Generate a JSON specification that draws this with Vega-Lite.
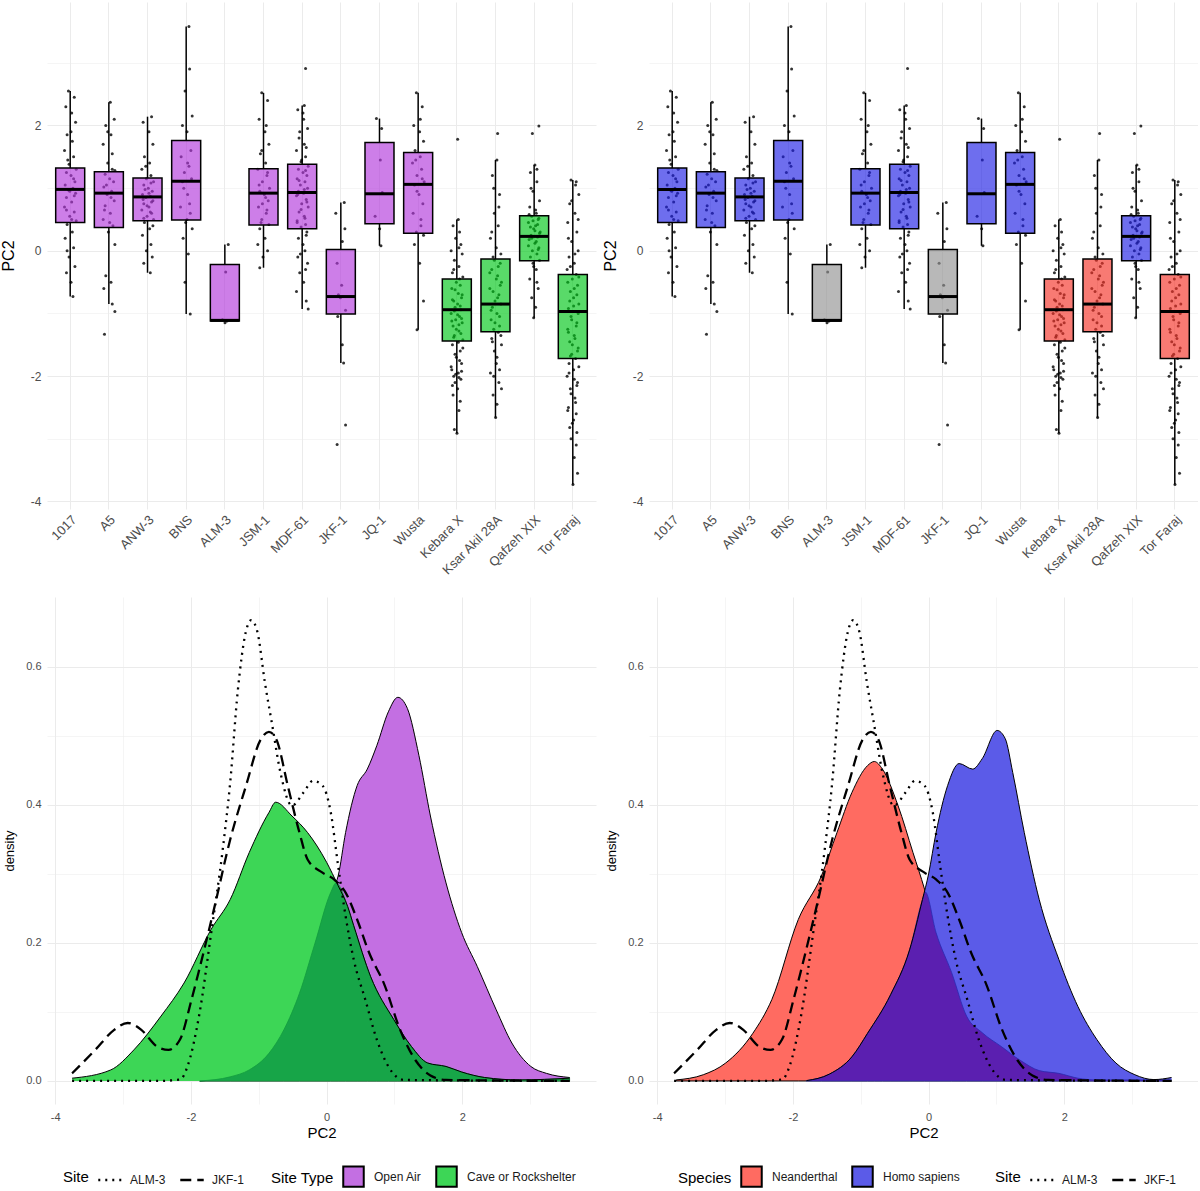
{
  "$schema": "https://vega.github.io/schema/vega-lite/v6.json",
  "padding": {"top": 2, "left": 0, "right": 0, "bottom": 0},
  "background": "white",
  "columns": 2,
  "spacing": {"row": 8, "column": 6},
  "config": {
    "font": "Liberation Sans",
    "view": {"stroke": null},
    "axis": {"domain": false, "ticks": false, "tickSize": 0, "gridColor": "#ebebeb", "labelColor": "#4d4d4d", "titleColor": "#000000", "titleFontWeight": "normal"},
    "legend": {"titleFontWeight": "normal", "titleFontSize": 15, "titleColor": "#000000", "labelFontSize": 12, "labelColor": "#1a1a1a"}
  },
  "resolve": {
    "scale": {"x": "independent", "y": "independent", "fill": "independent", "strokeDash": "independent"},
    "legend": {"fill": "independent", "strokeDash": "independent"}
  },
  "datasets": {
    "boxes": [
      {"s": "1017", "lo": -0.73, "q1": 0.45, "md": 0.98, "q3": 1.32, "hi": 2.55, "t": "Open Air", "sp": "Homo sapiens"},
      {"s": "A5", "lo": -0.85, "q1": 0.37, "md": 0.92, "q3": 1.26, "hi": 2.37, "t": "Open Air", "sp": "Homo sapiens"},
      {"s": "ANW-3", "lo": -0.35, "q1": 0.48, "md": 0.86, "q3": 1.16, "hi": 2.14, "t": "Open Air", "sp": "Homo sapiens"},
      {"s": "BNS", "lo": -1.01, "q1": 0.49, "md": 1.11, "q3": 1.76, "hi": 3.58, "t": "Open Air", "sp": "Homo sapiens"},
      {"s": "ALM-3", "lo": -1.13, "q1": -1.12, "md": -1.11, "q3": -0.22, "hi": 0.1, "t": "Open Air", "sp": "Unknown"},
      {"s": "JSM-1", "lo": -0.27, "q1": 0.41, "md": 0.92, "q3": 1.31, "hi": 2.52, "t": "Open Air", "sp": "Homo sapiens"},
      {"s": "MDF-61", "lo": -0.93, "q1": 0.35, "md": 0.93, "q3": 1.38, "hi": 2.32, "t": "Open Air", "sp": "Homo sapiens"},
      {"s": "JKF-1", "lo": -1.79, "q1": -1.01, "md": -0.73, "q3": 0.02, "hi": 0.77, "t": "Open Air", "sp": "Unknown"},
      {"s": "JQ-1", "lo": 0.08, "q1": 0.43, "md": 0.91, "q3": 1.73, "hi": 2.11, "t": "Open Air", "sp": "Homo sapiens"},
      {"s": "Wusta", "lo": -1.26, "q1": 0.28, "md": 1.06, "q3": 1.57, "hi": 2.52, "t": "Open Air", "sp": "Homo sapiens"},
      {"s": "Kebara X", "lo": -2.91, "q1": -1.44, "md": -0.94, "q3": -0.45, "hi": 0.5, "t": "Cave or Rockshelter", "sp": "Neanderthal"},
      {"s": "Ksar Akil 28A", "lo": -2.66, "q1": -1.29, "md": -0.85, "q3": -0.13, "hi": 1.45, "t": "Cave or Rockshelter", "sp": "Neanderthal"},
      {"s": "Qafzeh XIX", "lo": -1.07, "q1": -0.16, "md": 0.23, "q3": 0.56, "hi": 1.37, "t": "Cave or Rockshelter", "sp": "Homo sapiens"},
      {"s": "Tor Faraj", "lo": -3.73, "q1": -1.72, "md": -0.97, "q3": -0.38, "hi": 1.13, "t": "Cave or Rockshelter", "sp": "Neanderthal"}
    ],
    "pts": [
      {"s": "1017", "v": 2.55, "j": -0.3}, {"s": "1017", "v": 2.45, "j": 0.6}, {"s": "1017", "v": 2.3, "j": -0.7}, {"s": "1017", "v": 2.2, "j": 0.2}, {"s": "1017", "v": 2.05, "j": 0.8}, {"s": "1017", "v": 1.85, "j": -0.5}, {"s": "1017", "v": 1.75, "j": 0.3}, {"s": "1017", "v": 1.6, "j": -0.9}, {"s": "1017", "v": 1.5, "j": 0.5}, {"s": "1017", "v": 1.38, "j": -0.2}, {"s": "1017", "v": 1.3, "j": 0.9}, {"s": "1017", "v": 1.25, "j": -0.6}, {"s": "1017", "v": 1.2, "j": 0.1}, {"s": "1017", "v": 1.1, "j": 0.7}, {"s": "1017", "v": 1.05, "j": -0.8}, {"s": "1017", "v": 1.0, "j": 0.4}, {"s": "1017", "v": 0.97, "j": -0.3}, {"s": "1017", "v": 0.92, "j": 0.8}, {"s": "1017", "v": 0.85, "j": -0.6}, {"s": "1017", "v": 0.78, "j": 0.2}, {"s": "1017", "v": 0.7, "j": -0.9}, {"s": "1017", "v": 0.62, "j": 0.6}, {"s": "1017", "v": 0.55, "j": -0.1}, {"s": "1017", "v": 0.48, "j": 0.9}, {"s": "1017", "v": 0.42, "j": -0.5}, {"s": "1017", "v": 0.3, "j": 0.3}, {"s": "1017", "v": 0.2, "j": -0.8}, {"s": "1017", "v": 0.05, "j": 0.5}, {"s": "1017", "v": -0.1, "j": -0.2}, {"s": "1017", "v": -0.25, "j": 0.7}, {"s": "1017", "v": -0.35, "j": -0.6}, {"s": "1017", "v": -0.5, "j": 0.1}, {"s": "1017", "v": -0.73, "j": 0.4},
      {"s": "1017", "v": 1.9, "j": 0.1}, {"s": "1017", "v": 1.45, "j": -0.4}, {"s": "1017", "v": 1.15, "j": 0.5}, {"s": "1017", "v": 0.95, "j": -0.1}, {"s": "1017", "v": 0.88, "j": 0.6}, {"s": "1017", "v": 0.65, "j": -0.6}, {"s": "1017", "v": 0.5, "j": 0.2}, {"s": "1017", "v": 0.0, "j": -0.5},
      {"s": "A5", "v": 2.37, "j": 0.2}, {"s": "A5", "v": 2.1, "j": 0.8}, {"s": "A5", "v": 2.0, "j": -0.5}, {"s": "A5", "v": 1.85, "j": 0.3}, {"s": "A5", "v": 1.7, "j": -0.9}, {"s": "A5", "v": 1.55, "j": 0.5}, {"s": "A5", "v": 1.4, "j": -0.2}, {"s": "A5", "v": 1.28, "j": 0.9}, {"s": "A5", "v": 1.22, "j": -0.6}, {"s": "A5", "v": 1.15, "j": 0.1}, {"s": "A5", "v": 1.1, "j": 0.7}, {"s": "A5", "v": 1.02, "j": -0.8}, {"s": "A5", "v": 0.95, "j": 0.4}, {"s": "A5", "v": 0.9, "j": -0.3}, {"s": "A5", "v": 0.8, "j": 0.8}, {"s": "A5", "v": 0.72, "j": -0.6}, {"s": "A5", "v": 0.6, "j": 0.2}, {"s": "A5", "v": 0.5, "j": -0.9}, {"s": "A5", "v": 0.4, "j": 0.6}, {"s": "A5", "v": 0.3, "j": -0.1}, {"s": "A5", "v": 0.1, "j": 0.9}, {"s": "A5", "v": -0.4, "j": -0.5}, {"s": "A5", "v": -0.5, "j": 0.3}, {"s": "A5", "v": -0.6, "j": -0.8}, {"s": "A5", "v": -0.85, "j": 0.5}, {"s": "A5", "v": -0.97, "j": 0.9}, {"s": "A5", "v": -1.33, "j": -0.7},
      {"s": "A5", "v": 1.9, "j": -0.2}, {"s": "A5", "v": 1.3, "j": 0.5}, {"s": "A5", "v": 1.05, "j": -0.4}, {"s": "A5", "v": 0.85, "j": 0.3}, {"s": "A5", "v": 0.65, "j": -0.7}, {"s": "A5", "v": 0.45, "j": 0.1},
      {"s": "ANW-3", "v": 2.14, "j": 0.6}, {"s": "ANW-3", "v": 2.05, "j": -0.7}, {"s": "ANW-3", "v": 1.9, "j": 0.2}, {"s": "ANW-3", "v": 1.7, "j": 0.8}, {"s": "ANW-3", "v": 1.5, "j": -0.5}, {"s": "ANW-3", "v": 1.4, "j": 0.3}, {"s": "ANW-3", "v": 1.3, "j": -0.9}, {"s": "ANW-3", "v": 1.2, "j": 0.5}, {"s": "ANW-3", "v": 1.15, "j": -0.2}, {"s": "ANW-3", "v": 1.1, "j": 0.9}, {"s": "ANW-3", "v": 1.05, "j": -0.6}, {"s": "ANW-3", "v": 1.0, "j": 0.1}, {"s": "ANW-3", "v": 0.95, "j": 0.7}, {"s": "ANW-3", "v": 0.9, "j": -0.8}, {"s": "ANW-3", "v": 0.87, "j": 0.4}, {"s": "ANW-3", "v": 0.85, "j": -0.3}, {"s": "ANW-3", "v": 0.8, "j": 0.8}, {"s": "ANW-3", "v": 0.75, "j": -0.6}, {"s": "ANW-3", "v": 0.7, "j": 0.2}, {"s": "ANW-3", "v": 0.65, "j": -0.9}, {"s": "ANW-3", "v": 0.6, "j": 0.6}, {"s": "ANW-3", "v": 0.55, "j": -0.1}, {"s": "ANW-3", "v": 0.5, "j": 0.9}, {"s": "ANW-3", "v": 0.45, "j": -0.5}, {"s": "ANW-3", "v": 0.35, "j": 0.3}, {"s": "ANW-3", "v": 0.25, "j": -0.8}, {"s": "ANW-3", "v": 0.1, "j": 0.5}, {"s": "ANW-3", "v": 0.0, "j": -0.2}, {"s": "ANW-3", "v": -0.1, "j": 0.7}, {"s": "ANW-3", "v": -0.2, "j": -0.6}, {"s": "ANW-3", "v": -0.35, "j": 0.4},
      {"s": "ANW-3", "v": 1.35, "j": -0.3}, {"s": "ANW-3", "v": 1.08, "j": 0.5}, {"s": "ANW-3", "v": 0.98, "j": -0.4}, {"s": "ANW-3", "v": 0.92, "j": 0.2}, {"s": "ANW-3", "v": 0.82, "j": -0.7}, {"s": "ANW-3", "v": 0.78, "j": 0.6}, {"s": "ANW-3", "v": 0.72, "j": -0.1}, {"s": "ANW-3", "v": 0.62, "j": 0.4}, {"s": "ANW-3", "v": 0.52, "j": -0.6}, {"s": "ANW-3", "v": 0.4, "j": 0.8},
      {"s": "BNS", "v": 3.58, "j": 0.4}, {"s": "BNS", "v": 2.9, "j": 0.5}, {"s": "BNS", "v": 2.55, "j": -0.2}, {"s": "BNS", "v": 2.15, "j": 0.9}, {"s": "BNS", "v": 2.0, "j": -0.6}, {"s": "BNS", "v": 1.9, "j": 0.1}, {"s": "BNS", "v": 1.6, "j": 0.7}, {"s": "BNS", "v": 1.5, "j": -0.8}, {"s": "BNS", "v": 1.35, "j": 0.4}, {"s": "BNS", "v": 1.25, "j": -0.3}, {"s": "BNS", "v": 1.15, "j": 0.8}, {"s": "BNS", "v": 1.1, "j": -0.6}, {"s": "BNS", "v": 0.9, "j": 0.2}, {"s": "BNS", "v": 0.7, "j": -0.9}, {"s": "BNS", "v": 0.6, "j": 0.6}, {"s": "BNS", "v": 0.45, "j": -0.1}, {"s": "BNS", "v": 0.35, "j": 0.9}, {"s": "BNS", "v": 0.2, "j": -0.5}, {"s": "BNS", "v": -0.05, "j": 0.3}, {"s": "BNS", "v": -0.5, "j": -0.2}, {"s": "BNS", "v": -1.01, "j": 0.6},
      {"s": "BNS", "v": 1.4, "j": 0.2}, {"s": "BNS", "v": 1.0, "j": -0.4}, {"s": "BNS", "v": 0.75, "j": 0.5}, {"s": "BNS", "v": 0.5, "j": 0.1},
      {"s": "ALM-3", "v": 0.1, "j": 0.5}, {"s": "ALM-3", "v": -0.34, "j": 0.1}, {"s": "ALM-3", "v": -1.1, "j": -0.4}, {"s": "ALM-3", "v": -1.12, "j": 0.3}, {"s": "ALM-3", "v": -1.15, "j": 0.0},
      {"s": "JSM-1", "v": 2.52, "j": -0.3}, {"s": "JSM-1", "v": 2.4, "j": 0.6}, {"s": "JSM-1", "v": 2.1, "j": -0.7}, {"s": "JSM-1", "v": 1.9, "j": 0.2}, {"s": "JSM-1", "v": 1.7, "j": 0.8}, {"s": "JSM-1", "v": 1.55, "j": -0.5}, {"s": "JSM-1", "v": 1.4, "j": 0.3}, {"s": "JSM-1", "v": 1.3, "j": -0.9}, {"s": "JSM-1", "v": 1.2, "j": 0.5}, {"s": "JSM-1", "v": 1.1, "j": -0.2}, {"s": "JSM-1", "v": 1.0, "j": 0.9}, {"s": "JSM-1", "v": 0.95, "j": -0.6}, {"s": "JSM-1", "v": 0.9, "j": 0.1}, {"s": "JSM-1", "v": 0.8, "j": 0.7}, {"s": "JSM-1", "v": 0.7, "j": -0.8}, {"s": "JSM-1", "v": 0.6, "j": 0.4}, {"s": "JSM-1", "v": 0.5, "j": -0.3}, {"s": "JSM-1", "v": 0.42, "j": 0.8}, {"s": "JSM-1", "v": 0.35, "j": -0.6}, {"s": "JSM-1", "v": 0.2, "j": 0.2}, {"s": "JSM-1", "v": 0.1, "j": -0.9}, {"s": "JSM-1", "v": 0.0, "j": 0.6}, {"s": "JSM-1", "v": -0.1, "j": -0.1}, {"s": "JSM-1", "v": -0.27, "j": -0.6},
      {"s": "JSM-1", "v": 2.0, "j": 0.4}, {"s": "JSM-1", "v": 1.6, "j": -0.3}, {"s": "JSM-1", "v": 1.25, "j": 0.6}, {"s": "JSM-1", "v": 1.05, "j": -0.7}, {"s": "JSM-1", "v": 0.85, "j": 0.3}, {"s": "JSM-1", "v": 0.75, "j": -0.2}, {"s": "JSM-1", "v": 0.65, "j": 0.5}, {"s": "JSM-1", "v": 0.45, "j": -0.4},
      {"s": "MDF-61", "v": 2.91, "j": 0.5}, {"s": "MDF-61", "v": 2.32, "j": 0.3}, {"s": "MDF-61", "v": 2.25, "j": -0.7}, {"s": "MDF-61", "v": 2.1, "j": 0.2}, {"s": "MDF-61", "v": 1.95, "j": 0.8}, {"s": "MDF-61", "v": 1.8, "j": -0.5}, {"s": "MDF-61", "v": 1.7, "j": 0.3}, {"s": "MDF-61", "v": 1.6, "j": -0.9}, {"s": "MDF-61", "v": 1.5, "j": 0.5}, {"s": "MDF-61", "v": 1.42, "j": -0.2}, {"s": "MDF-61", "v": 1.35, "j": 0.9}, {"s": "MDF-61", "v": 1.3, "j": -0.6}, {"s": "MDF-61", "v": 1.25, "j": 0.1}, {"s": "MDF-61", "v": 1.2, "j": 0.7}, {"s": "MDF-61", "v": 1.15, "j": -0.8}, {"s": "MDF-61", "v": 1.1, "j": 0.4}, {"s": "MDF-61", "v": 1.05, "j": -0.3}, {"s": "MDF-61", "v": 1.0, "j": 0.8}, {"s": "MDF-61", "v": 0.95, "j": -0.6}, {"s": "MDF-61", "v": 0.92, "j": 0.2}, {"s": "MDF-61", "v": 0.88, "j": -0.9}, {"s": "MDF-61", "v": 0.82, "j": 0.6}, {"s": "MDF-61", "v": 0.75, "j": -0.1}, {"s": "MDF-61", "v": 0.7, "j": 0.9}, {"s": "MDF-61", "v": 0.62, "j": -0.5}, {"s": "MDF-61", "v": 0.55, "j": 0.3}, {"s": "MDF-61", "v": 0.48, "j": -0.8}, {"s": "MDF-61", "v": 0.42, "j": 0.5}, {"s": "MDF-61", "v": 0.38, "j": -0.2}, {"s": "MDF-61", "v": 0.3, "j": 0.7}, {"s": "MDF-61", "v": 0.2, "j": -0.6}, {"s": "MDF-61", "v": 0.1, "j": 0.1}, {"s": "MDF-61", "v": 0.0, "j": 0.4}, {"s": "MDF-61", "v": -0.1, "j": -0.7}, {"s": "MDF-61", "v": -0.2, "j": 0.8}, {"s": "MDF-61", "v": -0.35, "j": -0.4}, {"s": "MDF-61", "v": -0.5, "j": 0.2}, {"s": "MDF-61", "v": -0.65, "j": -0.9}, {"s": "MDF-61", "v": -0.8, "j": 0.6}, {"s": "MDF-61", "v": -0.93, "j": 0.9},
      {"s": "MDF-61", "v": 2.2, "j": 0.1}, {"s": "MDF-61", "v": 1.9, "j": -0.4}, {"s": "MDF-61", "v": 1.65, "j": 0.6}, {"s": "MDF-61", "v": 1.45, "j": -0.1}, {"s": "MDF-61", "v": 1.28, "j": 0.5}, {"s": "MDF-61", "v": 1.12, "j": -0.5}, {"s": "MDF-61", "v": 0.98, "j": 0.3}, {"s": "MDF-61", "v": 0.9, "j": -0.7}, {"s": "MDF-61", "v": 0.78, "j": 0.7}, {"s": "MDF-61", "v": 0.66, "j": -0.2}, {"s": "MDF-61", "v": 0.52, "j": 0.4}, {"s": "MDF-61", "v": 0.45, "j": -0.8}, {"s": "MDF-61", "v": 0.25, "j": 0.6}, {"s": "MDF-61", "v": -0.05, "j": -0.3}, {"s": "MDF-61", "v": -0.3, "j": 0.5},
      {"s": "JKF-1", "v": 0.77, "j": 0.5}, {"s": "JKF-1", "v": 0.6, "j": -0.8}, {"s": "JKF-1", "v": 0.35, "j": 0.6}, {"s": "JKF-1", "v": 0.15, "j": 0.2}, {"s": "JKF-1", "v": -0.2, "j": -0.6}, {"s": "JKF-1", "v": -0.55, "j": 0.1}, {"s": "JKF-1", "v": -0.7, "j": -0.4}, {"s": "JKF-1", "v": -0.73, "j": 0.3}, {"s": "JKF-1", "v": -0.75, "j": -0.1}, {"s": "JKF-1", "v": -0.95, "j": 0.7}, {"s": "JKF-1", "v": -1.05, "j": -0.5}, {"s": "JKF-1", "v": -1.5, "j": 0.2}, {"s": "JKF-1", "v": -1.79, "j": 0.4}, {"s": "JKF-1", "v": -2.78, "j": 0.7}, {"s": "JKF-1", "v": -3.09, "j": -0.6},
      {"s": "JQ-1", "v": 2.11, "j": -0.5}, {"s": "JQ-1", "v": 1.95, "j": 0.3}, {"s": "JQ-1", "v": 1.45, "j": 0.1}, {"s": "JQ-1", "v": 0.93, "j": 0.4}, {"s": "JQ-1", "v": 0.55, "j": -0.7}, {"s": "JQ-1", "v": 0.35, "j": 0.0}, {"s": "JQ-1", "v": 0.08, "j": 0.2},
      {"s": "Wusta", "v": 2.52, "j": -0.3}, {"s": "Wusta", "v": 2.3, "j": 0.6}, {"s": "Wusta", "v": 2.0, "j": -0.7}, {"s": "Wusta", "v": 1.9, "j": 0.2}, {"s": "Wusta", "v": 1.75, "j": 0.8}, {"s": "Wusta", "v": 1.6, "j": -0.5}, {"s": "Wusta", "v": 1.5, "j": 0.3}, {"s": "Wusta", "v": 1.4, "j": -0.9}, {"s": "Wusta", "v": 1.3, "j": 0.5}, {"s": "Wusta", "v": 1.2, "j": -0.2}, {"s": "Wusta", "v": 1.1, "j": 0.9}, {"s": "Wusta", "v": 1.05, "j": -0.6}, {"s": "Wusta", "v": 0.9, "j": 0.1}, {"s": "Wusta", "v": 0.75, "j": 0.7}, {"s": "Wusta", "v": 0.6, "j": -0.8}, {"s": "Wusta", "v": 0.4, "j": 0.4}, {"s": "Wusta", "v": 0.3, "j": -0.3}, {"s": "Wusta", "v": 0.25, "j": 0.8}, {"s": "Wusta", "v": 0.1, "j": -0.6}, {"s": "Wusta", "v": -0.2, "j": 0.2}, {"s": "Wusta", "v": -0.8, "j": 0.8}, {"s": "Wusta", "v": -1.26, "j": -0.2},
      {"s": "Wusta", "v": 2.1, "j": 0.3}, {"s": "Wusta", "v": 1.45, "j": -0.4}, {"s": "Wusta", "v": 1.15, "j": 0.6}, {"s": "Wusta", "v": 0.95, "j": -0.2}, {"s": "Wusta", "v": 0.5, "j": 0.4},
      {"s": "Kebara X", "v": 1.78, "j": 0.1}, {"s": "Kebara X", "v": 0.5, "j": 0.2}, {"s": "Kebara X", "v": 0.4, "j": -0.6}, {"s": "Kebara X", "v": 0.3, "j": 0.4}, {"s": "Kebara X", "v": 0.2, "j": -0.2}, {"s": "Kebara X", "v": 0.1, "j": 0.6}, {"s": "Kebara X", "v": 0.0, "j": -0.9}, {"s": "Kebara X", "v": -0.05, "j": 0.8}, {"s": "Kebara X", "v": -0.15, "j": -0.4}, {"s": "Kebara X", "v": -0.25, "j": 0.3}, {"s": "Kebara X", "v": -0.35, "j": -0.7}, {"s": "Kebara X", "v": -0.42, "j": 0.9}, {"s": "Kebara X", "v": -0.5, "j": -0.1}, {"s": "Kebara X", "v": -0.55, "j": 0.5}, {"s": "Kebara X", "v": -0.6, "j": -0.8}, {"s": "Kebara X", "v": -0.68, "j": 0.2}, {"s": "Kebara X", "v": -0.75, "j": 0.7}, {"s": "Kebara X", "v": -0.8, "j": -0.5}, {"s": "Kebara X", "v": -0.85, "j": 0.1}, {"s": "Kebara X", "v": -0.9, "j": -0.3}, {"s": "Kebara X", "v": -0.94, "j": 0.6}, {"s": "Kebara X", "v": -1.0, "j": -0.9}, {"s": "Kebara X", "v": -1.05, "j": 0.4}, {"s": "Kebara X", "v": -1.1, "j": -0.2}, {"s": "Kebara X", "v": -1.15, "j": 0.8}, {"s": "Kebara X", "v": -1.2, "j": -0.6}, {"s": "Kebara X", "v": -1.28, "j": 0.3}, {"s": "Kebara X", "v": -1.35, "j": -0.4}, {"s": "Kebara X", "v": -1.42, "j": 0.9}, {"s": "Kebara X", "v": -1.5, "j": -0.7}, {"s": "Kebara X", "v": -1.6, "j": 0.5}, {"s": "Kebara X", "v": -1.7, "j": -0.1}, {"s": "Kebara X", "v": -1.8, "j": 0.7}, {"s": "Kebara X", "v": -1.9, "j": -0.8}, {"s": "Kebara X", "v": -1.95, "j": 0.2}, {"s": "Kebara X", "v": -2.0, "j": -0.5}, {"s": "Kebara X", "v": -2.05, "j": 0.6}, {"s": "Kebara X", "v": -2.1, "j": -0.3}, {"s": "Kebara X", "v": -2.2, "j": 0.1}, {"s": "Kebara X", "v": -2.3, "j": -0.6}, {"s": "Kebara X", "v": -2.55, "j": 0.3}, {"s": "Kebara X", "v": -2.85, "j": -0.4}, {"s": "Kebara X", "v": -2.91, "j": 0.0},
      {"s": "Kebara X", "v": -0.45, "j": 0.4}, {"s": "Kebara X", "v": -0.62, "j": -0.3}, {"s": "Kebara X", "v": -0.7, "j": 0.8}, {"s": "Kebara X", "v": -0.78, "j": -0.7}, {"s": "Kebara X", "v": -0.88, "j": 0.5}, {"s": "Kebara X", "v": -0.96, "j": -0.4}, {"s": "Kebara X", "v": -1.02, "j": 0.1}, {"s": "Kebara X", "v": -1.08, "j": 0.7}, {"s": "Kebara X", "v": -1.12, "j": -0.8}, {"s": "Kebara X", "v": -1.18, "j": 0.3}, {"s": "Kebara X", "v": -1.25, "j": -0.1}, {"s": "Kebara X", "v": -1.32, "j": 0.6}, {"s": "Kebara X", "v": -1.38, "j": -0.5}, {"s": "Kebara X", "v": -1.46, "j": 0.2}, {"s": "Kebara X", "v": -1.55, "j": 0.9}, {"s": "Kebara X", "v": -1.65, "j": -0.3}, {"s": "Kebara X", "v": -1.75, "j": 0.4}, {"s": "Kebara X", "v": -1.85, "j": -0.9}, {"s": "Kebara X", "v": -1.92, "j": 0.7}, {"s": "Kebara X", "v": -1.97, "j": -0.2}, {"s": "Kebara X", "v": -2.02, "j": 0.3}, {"s": "Kebara X", "v": -2.15, "j": -0.7}, {"s": "Kebara X", "v": -2.4, "j": 0.5}, {"s": "Kebara X", "v": 0.05, "j": 0.3}, {"s": "Kebara X", "v": -0.3, "j": -0.5},
      {"s": "Ksar Akil 28A", "v": 1.87, "j": 0.3}, {"s": "Ksar Akil 28A", "v": 1.45, "j": 0.2}, {"s": "Ksar Akil 28A", "v": 1.2, "j": -0.5}, {"s": "Ksar Akil 28A", "v": 0.9, "j": 0.6}, {"s": "Ksar Akil 28A", "v": 0.6, "j": -0.2}, {"s": "Ksar Akil 28A", "v": 0.4, "j": 0.4}, {"s": "Ksar Akil 28A", "v": 0.2, "j": -0.8}, {"s": "Ksar Akil 28A", "v": 0.05, "j": 0.1}, {"s": "Ksar Akil 28A", "v": -0.1, "j": -0.4}, {"s": "Ksar Akil 28A", "v": -0.2, "j": 0.7}, {"s": "Ksar Akil 28A", "v": -0.3, "j": -0.6}, {"s": "Ksar Akil 28A", "v": -0.4, "j": 0.3}, {"s": "Ksar Akil 28A", "v": -0.5, "j": 0.9}, {"s": "Ksar Akil 28A", "v": -0.6, "j": -0.9}, {"s": "Ksar Akil 28A", "v": -0.7, "j": 0.5}, {"s": "Ksar Akil 28A", "v": -0.8, "j": -0.1}, {"s": "Ksar Akil 28A", "v": -0.85, "j": 0.8}, {"s": "Ksar Akil 28A", "v": -0.9, "j": -0.5}, {"s": "Ksar Akil 28A", "v": -1.0, "j": 0.2}, {"s": "Ksar Akil 28A", "v": -1.1, "j": -0.7}, {"s": "Ksar Akil 28A", "v": -1.2, "j": 0.6}, {"s": "Ksar Akil 28A", "v": -1.25, "j": -0.3}, {"s": "Ksar Akil 28A", "v": -1.3, "j": 0.4}, {"s": "Ksar Akil 28A", "v": -1.4, "j": -0.6}, {"s": "Ksar Akil 28A", "v": -1.5, "j": 0.9}, {"s": "Ksar Akil 28A", "v": -1.6, "j": -0.2}, {"s": "Ksar Akil 28A", "v": -1.8, "j": 0.1}, {"s": "Ksar Akil 28A", "v": -1.95, "j": -0.8}, {"s": "Ksar Akil 28A", "v": -2.1, "j": 0.5}, {"s": "Ksar Akil 28A", "v": -2.3, "j": -0.4}, {"s": "Ksar Akil 28A", "v": -2.45, "j": 0.2}, {"s": "Ksar Akil 28A", "v": -2.66, "j": 0.0},
      {"s": "Ksar Akil 28A", "v": 1.0, "j": -0.3}, {"s": "Ksar Akil 28A", "v": 0.7, "j": 0.5}, {"s": "Ksar Akil 28A", "v": 0.3, "j": -0.6}, {"s": "Ksar Akil 28A", "v": -0.05, "j": 0.8}, {"s": "Ksar Akil 28A", "v": -0.15, "j": -0.2}, {"s": "Ksar Akil 28A", "v": -0.25, "j": 0.4}, {"s": "Ksar Akil 28A", "v": -0.35, "j": -0.9}, {"s": "Ksar Akil 28A", "v": -0.45, "j": 0.1}, {"s": "Ksar Akil 28A", "v": -0.55, "j": 0.7}, {"s": "Ksar Akil 28A", "v": -0.65, "j": -0.4}, {"s": "Ksar Akil 28A", "v": -0.75, "j": 0.3}, {"s": "Ksar Akil 28A", "v": -0.95, "j": -0.7}, {"s": "Ksar Akil 28A", "v": -1.05, "j": 0.6}, {"s": "Ksar Akil 28A", "v": -1.15, "j": -0.1}, {"s": "Ksar Akil 28A", "v": -1.35, "j": 0.8}, {"s": "Ksar Akil 28A", "v": -1.45, "j": -0.5}, {"s": "Ksar Akil 28A", "v": -1.7, "j": 0.2}, {"s": "Ksar Akil 28A", "v": -1.9, "j": 0.6}, {"s": "Ksar Akil 28A", "v": -2.0, "j": -0.3}, {"s": "Ksar Akil 28A", "v": -2.2, "j": 0.9},
      {"s": "Qafzeh XIX", "v": 1.99, "j": 0.7}, {"s": "Qafzeh XIX", "v": 1.87, "j": -0.3}, {"s": "Qafzeh XIX", "v": 1.37, "j": 0.1}, {"s": "Qafzeh XIX", "v": 1.25, "j": -0.6}, {"s": "Qafzeh XIX", "v": 1.1, "j": 0.4}, {"s": "Qafzeh XIX", "v": 0.95, "j": -0.2}, {"s": "Qafzeh XIX", "v": 0.8, "j": 0.8}, {"s": "Qafzeh XIX", "v": 0.7, "j": -0.7}, {"s": "Qafzeh XIX", "v": 0.6, "j": 0.3}, {"s": "Qafzeh XIX", "v": 0.55, "j": -0.4}, {"s": "Qafzeh XIX", "v": 0.5, "j": 0.6}, {"s": "Qafzeh XIX", "v": 0.45, "j": -0.9}, {"s": "Qafzeh XIX", "v": 0.4, "j": 0.2}, {"s": "Qafzeh XIX", "v": 0.35, "j": -0.1}, {"s": "Qafzeh XIX", "v": 0.3, "j": 0.9}, {"s": "Qafzeh XIX", "v": 0.25, "j": -0.5}, {"s": "Qafzeh XIX", "v": 0.22, "j": 0.5}, {"s": "Qafzeh XIX", "v": 0.18, "j": -0.8}, {"s": "Qafzeh XIX", "v": 0.12, "j": 0.1}, {"s": "Qafzeh XIX", "v": 0.05, "j": 0.7}, {"s": "Qafzeh XIX", "v": 0.0, "j": -0.3}, {"s": "Qafzeh XIX", "v": -0.05, "j": 0.4}, {"s": "Qafzeh XIX", "v": -0.1, "j": -0.6}, {"s": "Qafzeh XIX", "v": -0.15, "j": 0.8}, {"s": "Qafzeh XIX", "v": -0.2, "j": -0.2}, {"s": "Qafzeh XIX", "v": -0.3, "j": 0.3}, {"s": "Qafzeh XIX", "v": -0.45, "j": -0.7}, {"s": "Qafzeh XIX", "v": -0.6, "j": 0.6}, {"s": "Qafzeh XIX", "v": -0.75, "j": -0.4}, {"s": "Qafzeh XIX", "v": -0.9, "j": 0.2}, {"s": "Qafzeh XIX", "v": -1.07, "j": -0.1},
      {"s": "Qafzeh XIX", "v": 1.3, "j": 0.4}, {"s": "Qafzeh XIX", "v": 1.0, "j": -0.5}, {"s": "Qafzeh XIX", "v": 0.65, "j": 0.2}, {"s": "Qafzeh XIX", "v": 0.58, "j": -0.8}, {"s": "Qafzeh XIX", "v": 0.52, "j": 0.7}, {"s": "Qafzeh XIX", "v": 0.48, "j": -0.2}, {"s": "Qafzeh XIX", "v": 0.42, "j": 0.5}, {"s": "Qafzeh XIX", "v": 0.38, "j": -0.6}, {"s": "Qafzeh XIX", "v": 0.32, "j": 0.1}, {"s": "Qafzeh XIX", "v": 0.28, "j": 0.8}, {"s": "Qafzeh XIX", "v": 0.2, "j": -0.4}, {"s": "Qafzeh XIX", "v": 0.15, "j": 0.3}, {"s": "Qafzeh XIX", "v": 0.08, "j": -0.9}, {"s": "Qafzeh XIX", "v": 0.02, "j": 0.6}, {"s": "Qafzeh XIX", "v": -0.25, "j": -0.1}, {"s": "Qafzeh XIX", "v": -0.5, "j": 0.4},
      {"s": "Tor Faraj", "v": 1.13, "j": -0.3}, {"s": "Tor Faraj", "v": 1.05, "j": 0.4}, {"s": "Tor Faraj", "v": 0.9, "j": 0.9}, {"s": "Tor Faraj", "v": 0.75, "j": -0.5}, {"s": "Tor Faraj", "v": 0.6, "j": 0.3}, {"s": "Tor Faraj", "v": 0.45, "j": -0.8}, {"s": "Tor Faraj", "v": 0.3, "j": 0.6}, {"s": "Tor Faraj", "v": 0.15, "j": -0.2}, {"s": "Tor Faraj", "v": 0.0, "j": 0.8}, {"s": "Tor Faraj", "v": -0.1, "j": -0.6}, {"s": "Tor Faraj", "v": -0.2, "j": 0.2}, {"s": "Tor Faraj", "v": -0.3, "j": -0.9}, {"s": "Tor Faraj", "v": -0.38, "j": 0.5}, {"s": "Tor Faraj", "v": -0.45, "j": -0.1}, {"s": "Tor Faraj", "v": -0.55, "j": 0.7}, {"s": "Tor Faraj", "v": -0.65, "j": -0.4}, {"s": "Tor Faraj", "v": -0.75, "j": 0.1}, {"s": "Tor Faraj", "v": -0.85, "j": 0.9}, {"s": "Tor Faraj", "v": -0.92, "j": -0.7}, {"s": "Tor Faraj", "v": -0.97, "j": 0.3}, {"s": "Tor Faraj", "v": -1.05, "j": -0.3}, {"s": "Tor Faraj", "v": -1.15, "j": 0.6}, {"s": "Tor Faraj", "v": -1.25, "j": -0.8}, {"s": "Tor Faraj", "v": -1.35, "j": 0.2}, {"s": "Tor Faraj", "v": -1.45, "j": -0.5}, {"s": "Tor Faraj", "v": -1.55, "j": 0.8}, {"s": "Tor Faraj", "v": -1.65, "j": -0.2}, {"s": "Tor Faraj", "v": -1.72, "j": 0.4}, {"s": "Tor Faraj", "v": -1.8, "j": -0.6}, {"s": "Tor Faraj", "v": -1.9, "j": 0.1}, {"s": "Tor Faraj", "v": -2.0, "j": -0.9}, {"s": "Tor Faraj", "v": -2.1, "j": 0.7}, {"s": "Tor Faraj", "v": -2.2, "j": -0.4}, {"s": "Tor Faraj", "v": -2.35, "j": 0.3}, {"s": "Tor Faraj", "v": -2.5, "j": -0.7}, {"s": "Tor Faraj", "v": -2.6, "j": 0.5}, {"s": "Tor Faraj", "v": -2.75, "j": -0.1}, {"s": "Tor Faraj", "v": -2.9, "j": 0.6}, {"s": "Tor Faraj", "v": -3.0, "j": -0.3}, {"s": "Tor Faraj", "v": -3.3, "j": 0.2}, {"s": "Tor Faraj", "v": -3.55, "j": 0.7}, {"s": "Tor Faraj", "v": -3.73, "j": 0.0},
      {"s": "Tor Faraj", "v": 1.1, "j": 0.5}, {"s": "Tor Faraj", "v": 0.8, "j": -0.2}, {"s": "Tor Faraj", "v": 0.5, "j": 0.8}, {"s": "Tor Faraj", "v": 0.2, "j": -0.7}, {"s": "Tor Faraj", "v": -0.05, "j": 0.3}, {"s": "Tor Faraj", "v": -0.25, "j": -0.4}, {"s": "Tor Faraj", "v": -0.42, "j": 0.9}, {"s": "Tor Faraj", "v": -0.5, "j": -0.8}, {"s": "Tor Faraj", "v": -0.6, "j": 0.2}, {"s": "Tor Faraj", "v": -0.7, "j": 0.6}, {"s": "Tor Faraj", "v": -0.8, "j": -0.5}, {"s": "Tor Faraj", "v": -0.88, "j": 0.1}, {"s": "Tor Faraj", "v": -1.0, "j": 0.8}, {"s": "Tor Faraj", "v": -1.1, "j": -0.2}, {"s": "Tor Faraj", "v": -1.2, "j": 0.5}, {"s": "Tor Faraj", "v": -1.3, "j": -0.7}, {"s": "Tor Faraj", "v": -1.4, "j": 0.3}, {"s": "Tor Faraj", "v": -1.5, "j": -0.1}, {"s": "Tor Faraj", "v": -1.6, "j": 0.7}, {"s": "Tor Faraj", "v": -1.68, "j": -0.4}, {"s": "Tor Faraj", "v": -1.85, "j": 0.9}, {"s": "Tor Faraj", "v": -1.95, "j": -0.6}, {"s": "Tor Faraj", "v": -2.05, "j": 0.2}, {"s": "Tor Faraj", "v": -2.15, "j": 0.6}, {"s": "Tor Faraj", "v": -2.28, "j": -0.3}, {"s": "Tor Faraj", "v": -2.42, "j": 0.4}, {"s": "Tor Faraj", "v": -2.55, "j": -0.8}, {"s": "Tor Faraj", "v": -2.7, "j": 0.1}, {"s": "Tor Faraj", "v": -2.82, "j": -0.5}, {"s": "Tor Faraj", "v": -3.1, "j": 0.5}
    ],
    "densL": [
      {"g": "Open Air", "x": -1.87, "d": 0}, {"g": "Open Air", "x": -1.42, "d": 0.006}, {"g": "Open Air", "x": -1.14, "d": 0.016}, {"g": "Open Air", "x": -0.85, "d": 0.04}, {"g": "Open Air", "x": -0.63, "d": 0.074}, {"g": "Open Air", "x": -0.4, "d": 0.127}, {"g": "Open Air", "x": -0.17, "d": 0.2}, {"g": "Open Air", "x": 0.06, "d": 0.273}, {"g": "Open Air", "x": 0.17, "d": 0.297}, {"g": "Open Air", "x": 0.28, "d": 0.36}, {"g": "Open Air", "x": 0.45, "d": 0.428}, {"g": "Open Air", "x": 0.6, "d": 0.452}, {"g": "Open Air", "x": 0.74, "d": 0.486}, {"g": "Open Air", "x": 0.91, "d": 0.535}, {"g": "Open Air", "x": 1.05, "d": 0.556}, {"g": "Open Air", "x": 1.19, "d": 0.54}, {"g": "Open Air", "x": 1.36, "d": 0.472}, {"g": "Open Air", "x": 1.53, "d": 0.384}, {"g": "Open Air", "x": 1.76, "d": 0.287}, {"g": "Open Air", "x": 1.99, "d": 0.215}, {"g": "Open Air", "x": 2.22, "d": 0.166}, {"g": "Open Air", "x": 2.5, "d": 0.103}, {"g": "Open Air", "x": 2.73, "d": 0.055}, {"g": "Open Air", "x": 3.01, "d": 0.021}, {"g": "Open Air", "x": 3.24, "d": 0.011}, {"g": "Open Air", "x": 3.58, "d": 0.005},
      {"g": "Cave or Rockshelter", "x": -3.75, "d": 0.004}, {"g": "Cave or Rockshelter", "x": -3.18, "d": 0.016}, {"g": "Cave or Rockshelter", "x": -2.84, "d": 0.045}, {"g": "Cave or Rockshelter", "x": -2.44, "d": 0.094}, {"g": "Cave or Rockshelter", "x": -2.1, "d": 0.142}, {"g": "Cave or Rockshelter", "x": -1.7, "d": 0.22}, {"g": "Cave or Rockshelter", "x": -1.42, "d": 0.263}, {"g": "Cave or Rockshelter", "x": -1.14, "d": 0.331}, {"g": "Cave or Rockshelter", "x": -0.85, "d": 0.389}, {"g": "Cave or Rockshelter", "x": -0.75, "d": 0.404}, {"g": "Cave or Rockshelter", "x": -0.51, "d": 0.384}, {"g": "Cave or Rockshelter", "x": -0.28, "d": 0.36}, {"g": "Cave or Rockshelter", "x": 0, "d": 0.317}, {"g": "Cave or Rockshelter", "x": 0.17, "d": 0.283}, {"g": "Cave or Rockshelter", "x": 0.31, "d": 0.253}, {"g": "Cave or Rockshelter", "x": 0.4, "d": 0.225}, {"g": "Cave or Rockshelter", "x": 0.65, "d": 0.151}, {"g": "Cave or Rockshelter", "x": 0.99, "d": 0.089}, {"g": "Cave or Rockshelter", "x": 1.25, "d": 0.05}, {"g": "Cave or Rockshelter", "x": 1.49, "d": 0.026}, {"g": "Cave or Rockshelter", "x": 1.76, "d": 0.021}, {"g": "Cave or Rockshelter", "x": 1.99, "d": 0.013}, {"g": "Cave or Rockshelter", "x": 2.33, "d": 0.005}, {"g": "Cave or Rockshelter", "x": 2.84, "d": 0.0015}, {"g": "Cave or Rockshelter", "x": 3.58, "d": 0.004},
      {"g": "ov", "x": -1.87, "d": 0}, {"g": "ov", "x": -1.42, "d": 0.006}, {"g": "ov", "x": -1.14, "d": 0.016}, {"g": "ov", "x": -0.85, "d": 0.04}, {"g": "ov", "x": -0.63, "d": 0.074}, {"g": "ov", "x": -0.4, "d": 0.127}, {"g": "ov", "x": -0.17, "d": 0.2}, {"g": "ov", "x": 0.06, "d": 0.273}, {"g": "ov", "x": 0.14, "d": 0.287}, {"g": "ov", "x": 0.31, "d": 0.253}, {"g": "ov", "x": 0.4, "d": 0.225}, {"g": "ov", "x": 0.65, "d": 0.151}, {"g": "ov", "x": 0.99, "d": 0.089}, {"g": "ov", "x": 1.25, "d": 0.05}, {"g": "ov", "x": 1.49, "d": 0.026}, {"g": "ov", "x": 1.76, "d": 0.021}, {"g": "ov", "x": 1.99, "d": 0.013}, {"g": "ov", "x": 2.33, "d": 0.005}, {"g": "ov", "x": 2.84, "d": 0.0015}, {"g": "ov", "x": 3.58, "d": 0.004}
    ],
    "densR": [
      {"g": "Neanderthal", "x": -3.72, "d": 0.0015}, {"g": "Neanderthal", "x": -3.32, "d": 0.009}, {"g": "Neanderthal", "x": -2.99, "d": 0.026}, {"g": "Neanderthal", "x": -2.59, "d": 0.069}, {"g": "Neanderthal", "x": -2.31, "d": 0.118}, {"g": "Neanderthal", "x": -1.92, "d": 0.234}, {"g": "Neanderthal", "x": -1.58, "d": 0.297}, {"g": "Neanderthal", "x": -1.35, "d": 0.36}, {"g": "Neanderthal", "x": -1.13, "d": 0.418}, {"g": "Neanderthal", "x": -0.9, "d": 0.457}, {"g": "Neanderthal", "x": -0.8, "d": 0.463}, {"g": "Neanderthal", "x": -0.68, "d": 0.452}, {"g": "Neanderthal", "x": -0.45, "d": 0.399}, {"g": "Neanderthal", "x": -0.23, "d": 0.331}, {"g": "Neanderthal", "x": -0.06, "d": 0.278}, {"g": "Neanderthal", "x": 0.11, "d": 0.215}, {"g": "Neanderthal", "x": 0.34, "d": 0.157}, {"g": "Neanderthal", "x": 0.56, "d": 0.094}, {"g": "Neanderthal", "x": 0.79, "d": 0.07}, {"g": "Neanderthal", "x": 1.07, "d": 0.05}, {"g": "Neanderthal", "x": 1.35, "d": 0.03}, {"g": "Neanderthal", "x": 1.63, "d": 0.015}, {"g": "Neanderthal", "x": 1.92, "d": 0.011}, {"g": "Neanderthal", "x": 2.2, "d": 0.004}, {"g": "Neanderthal", "x": 2.48, "d": 0.0015}, {"g": "Neanderthal", "x": 3.55, "d": 0.0015},
      {"g": "Homo sapiens", "x": -1.8, "d": 0.0005}, {"g": "Homo sapiens", "x": -1.46, "d": 0.01}, {"g": "Homo sapiens", "x": -1.13, "d": 0.035}, {"g": "Homo sapiens", "x": -0.9, "d": 0.069}, {"g": "Homo sapiens", "x": -0.56, "d": 0.125}, {"g": "Homo sapiens", "x": -0.28, "d": 0.19}, {"g": "Homo sapiens", "x": -0.09, "d": 0.263}, {"g": "Homo sapiens", "x": 0, "d": 0.3}, {"g": "Homo sapiens", "x": 0.11, "d": 0.36}, {"g": "Homo sapiens", "x": 0.28, "d": 0.428}, {"g": "Homo sapiens", "x": 0.45, "d": 0.46}, {"g": "Homo sapiens", "x": 0.65, "d": 0.452}, {"g": "Homo sapiens", "x": 0.79, "d": 0.467}, {"g": "Homo sapiens", "x": 1.01, "d": 0.508}, {"g": "Homo sapiens", "x": 1.13, "d": 0.496}, {"g": "Homo sapiens", "x": 1.24, "d": 0.447}, {"g": "Homo sapiens", "x": 1.41, "d": 0.36}, {"g": "Homo sapiens", "x": 1.63, "d": 0.263}, {"g": "Homo sapiens", "x": 1.92, "d": 0.176}, {"g": "Homo sapiens", "x": 2.2, "d": 0.108}, {"g": "Homo sapiens", "x": 2.48, "d": 0.06}, {"g": "Homo sapiens", "x": 2.76, "d": 0.026}, {"g": "Homo sapiens", "x": 3.04, "d": 0.009}, {"g": "Homo sapiens", "x": 3.32, "d": 0.002}, {"g": "Homo sapiens", "x": 3.58, "d": 0.005},
      {"g": "ov", "x": -1.8, "d": 0.0005}, {"g": "ov", "x": -1.46, "d": 0.01}, {"g": "ov", "x": -1.13, "d": 0.035}, {"g": "ov", "x": -0.9, "d": 0.069}, {"g": "ov", "x": -0.56, "d": 0.125}, {"g": "ov", "x": -0.28, "d": 0.19}, {"g": "ov", "x": -0.09, "d": 0.263}, {"g": "ov", "x": -0.05, "d": 0.274}, {"g": "ov", "x": 0.11, "d": 0.215}, {"g": "ov", "x": 0.34, "d": 0.157}, {"g": "ov", "x": 0.56, "d": 0.094}, {"g": "ov", "x": 0.79, "d": 0.07}, {"g": "ov", "x": 1.07, "d": 0.05}, {"g": "ov", "x": 1.35, "d": 0.03}, {"g": "ov", "x": 1.63, "d": 0.015}, {"g": "ov", "x": 1.92, "d": 0.011}, {"g": "ov", "x": 2.2, "d": 0.004}, {"g": "ov", "x": 2.48, "d": 0.0015}, {"g": "ov", "x": 3.32, "d": 0.0015}, {"g": "ov", "x": 3.55, "d": 0.0015}
    ],
    "sites": [
      {"g": "ALM-3", "x": -3.75, "d": 0}, {"g": "ALM-3", "x": -2.5, "d": 0}, {"g": "ALM-3", "x": -2.16, "d": 0.002}, {"g": "ALM-3", "x": -2.05, "d": 0.021}, {"g": "ALM-3", "x": -1.88, "d": 0.094}, {"g": "ALM-3", "x": -1.7, "d": 0.215}, {"g": "ALM-3", "x": -1.53, "d": 0.336}, {"g": "ALM-3", "x": -1.42, "d": 0.433}, {"g": "ALM-3", "x": -1.31, "d": 0.564}, {"g": "ALM-3", "x": -1.19, "d": 0.651}, {"g": "ALM-3", "x": -1.11, "d": 0.668}, {"g": "ALM-3", "x": -1.02, "d": 0.651}, {"g": "ALM-3", "x": -0.91, "d": 0.578}, {"g": "ALM-3", "x": -0.8, "d": 0.515}, {"g": "ALM-3", "x": -0.68, "d": 0.447}, {"g": "ALM-3", "x": -0.51, "d": 0.399}, {"g": "ALM-3", "x": -0.34, "d": 0.418}, {"g": "ALM-3", "x": -0.2, "d": 0.435}, {"g": "ALM-3", "x": -0.06, "d": 0.428}, {"g": "ALM-3", "x": 0.06, "d": 0.39}, {"g": "ALM-3", "x": 0.17, "d": 0.312}, {"g": "ALM-3", "x": 0.28, "d": 0.239}, {"g": "ALM-3", "x": 0.4, "d": 0.176}, {"g": "ALM-3", "x": 0.57, "d": 0.118}, {"g": "ALM-3", "x": 0.74, "d": 0.06}, {"g": "ALM-3", "x": 0.91, "d": 0.021}, {"g": "ALM-3", "x": 1.14, "d": 0.0015}, {"g": "ALM-3", "x": 3.58, "d": 0},
      {"g": "JKF-1", "x": -3.75, "d": 0.011}, {"g": "JKF-1", "x": -3.41, "d": 0.045}, {"g": "JKF-1", "x": -3.13, "d": 0.074}, {"g": "JKF-1", "x": -2.93, "d": 0.084}, {"g": "JKF-1", "x": -2.73, "d": 0.074}, {"g": "JKF-1", "x": -2.5, "d": 0.05}, {"g": "JKF-1", "x": -2.33, "d": 0.045}, {"g": "JKF-1", "x": -2.16, "d": 0.06}, {"g": "JKF-1", "x": -1.99, "d": 0.118}, {"g": "JKF-1", "x": -1.88, "d": 0.16}, {"g": "JKF-1", "x": -1.65, "d": 0.253}, {"g": "JKF-1", "x": -1.42, "d": 0.35}, {"g": "JKF-1", "x": -1.19, "d": 0.427}, {"g": "JKF-1", "x": -0.97, "d": 0.495}, {"g": "JKF-1", "x": -0.85, "d": 0.506}, {"g": "JKF-1", "x": -0.74, "d": 0.495}, {"g": "JKF-1", "x": -0.57, "d": 0.427}, {"g": "JKF-1", "x": -0.4, "d": 0.36}, {"g": "JKF-1", "x": -0.28, "d": 0.321}, {"g": "JKF-1", "x": -0.06, "d": 0.302}, {"g": "JKF-1", "x": 0.11, "d": 0.292}, {"g": "JKF-1", "x": 0.28, "d": 0.273}, {"g": "JKF-1", "x": 0.45, "d": 0.234}, {"g": "JKF-1", "x": 0.63, "d": 0.185}, {"g": "JKF-1", "x": 0.85, "d": 0.14}, {"g": "JKF-1", "x": 1.08, "d": 0.075}, {"g": "JKF-1", "x": 1.31, "d": 0.03}, {"g": "JKF-1", "x": 1.53, "d": 0.008}, {"g": "JKF-1", "x": 1.76, "d": 0.0015}, {"g": "JKF-1", "x": 3.58, "d": 0}
    ]
  },
  "concat": [
    {
      "width": 549,
      "height": 507,
      "encoding": {
        "x": {"field": "s", "type": "nominal", "title": null,
              "sort": ["1017", "A5", "ANW-3", "BNS", "ALM-3", "JSM-1", "MDF-61", "JKF-1", "JQ-1", "Wusta", "Kebara X", "Ksar Akil 28A", "Qafzeh XIX", "Tor Faraj"],
              "scale": {"paddingInner": 0, "paddingOuter": 0.1},
              "axis": {"labelAngle": -45, "labelAlign": "right", "labelBaseline": "top", "labelFontSize": 13, "labelPadding": 4, "grid": true, "bandPosition": 0.5, "minExtent": 80, "maxExtent": 80}}
      },
      "layer": [
        {"data": {"name": "boxes"}, "mark": {"type": "rule", "strokeWidth": 1.5, "color": "black"},
         "encoding": {"y": {"field": "q3", "type": "quantitative", "title": "PC2",
                            "scale": {"domain": [-4.12, 3.97], "nice": false, "zero": false},
                            "axis": {"values": [-4, -3, -2, -1, 0, 1, 2, 3], "labelExpr": "datum.value % 2 == 0 ? '' + datum.value : ''", "gridWidth": {"condition": {"test": "datum.value % 2 != 0", "value": 0.5}, "value": 1}, "labelFontSize": 12, "titleFontSize": 16, "labelPadding": 6, "titlePadding": 5, "minExtent": 26, "maxExtent": 26}},
                      "y2": {"field": "hi"}}},
        {"data": {"name": "boxes"}, "mark": {"type": "rule", "strokeWidth": 1.5, "color": "black"},
         "encoding": {"y": {"field": "lo", "type": "quantitative"}, "y2": {"field": "q1"}}},
        {"data": {"name": "pts"}, "mark": {"type": "circle", "size": 9, "color": "black", "opacity": 0.8},
         "encoding": {"xOffset": {"field": "j", "type": "quantitative", "scale": {"domain": [-1, 1], "range": [13, 26]}},
                      "y": {"field": "v", "type": "quantitative"}}},
        {"data": {"name": "boxes"}, "mark": {"type": "bar", "width": 29, "stroke": "black", "strokeWidth": 1.5, "fillOpacity": 0.65},
         "encoding": {"y": {"field": "q1", "type": "quantitative"}, "y2": {"field": "q3"},
                      "fill": {"field": "t", "type": "nominal", "legend": null,
                               "scale": {"domain": ["Open Air", "Cave or Rockshelter"], "range": ["#b239dc", "#00c619"]}}}},
        {"data": {"name": "boxes"}, "mark": {"type": "tick", "size": 29, "thickness": 3, "color": "black", "opacity": 1},
         "encoding": {"y": {"field": "md", "type": "quantitative"}}}
      ]
    },
    {
      "width": 549,
      "height": 507,
      "encoding": {
        "x": {"field": "s", "type": "nominal", "title": null,
              "sort": ["1017", "A5", "ANW-3", "BNS", "ALM-3", "JSM-1", "MDF-61", "JKF-1", "JQ-1", "Wusta", "Kebara X", "Ksar Akil 28A", "Qafzeh XIX", "Tor Faraj"],
              "scale": {"paddingInner": 0, "paddingOuter": 0.1},
              "axis": {"labelAngle": -45, "labelAlign": "right", "labelBaseline": "top", "labelFontSize": 13, "labelPadding": 4, "grid": true, "bandPosition": 0.5, "minExtent": 80, "maxExtent": 80}}
      },
      "layer": [
        {"data": {"name": "boxes"}, "mark": {"type": "rule", "strokeWidth": 1.5, "color": "black"},
         "encoding": {"y": {"field": "q3", "type": "quantitative", "title": "PC2",
                            "scale": {"domain": [-4.12, 3.97], "nice": false, "zero": false},
                            "axis": {"values": [-4, -3, -2, -1, 0, 1, 2, 3], "labelExpr": "datum.value % 2 == 0 ? '' + datum.value : ''", "gridWidth": {"condition": {"test": "datum.value % 2 != 0", "value": 0.5}, "value": 1}, "labelFontSize": 12, "titleFontSize": 16, "labelPadding": 6, "titlePadding": 5, "minExtent": 26, "maxExtent": 26}},
                      "y2": {"field": "hi"}}},
        {"data": {"name": "boxes"}, "mark": {"type": "rule", "strokeWidth": 1.5, "color": "black"},
         "encoding": {"y": {"field": "lo", "type": "quantitative"}, "y2": {"field": "q1"}}},
        {"data": {"name": "pts"}, "mark": {"type": "circle", "size": 9, "color": "black", "opacity": 0.8},
         "encoding": {"xOffset": {"field": "j", "type": "quantitative", "scale": {"domain": [-1, 1], "range": [13, 26]}},
                      "y": {"field": "v", "type": "quantitative"}}},
        {"data": {"name": "boxes"}, "mark": {"type": "bar", "width": 29, "stroke": "black", "strokeWidth": 1.5, "fillOpacity": 0.65},
         "encoding": {"y": {"field": "q1", "type": "quantitative"}, "y2": {"field": "q3"},
                      "fill": {"field": "sp", "type": "nominal", "legend": null,
                               "scale": {"domain": ["Homo sapiens", "Neanderthal", "Unknown"], "range": ["#2020e5", "#f53328", "#929292"]}}}},
        {"data": {"name": "boxes"}, "mark": {"type": "tick", "size": 29, "thickness": 3, "color": "black", "opacity": 1},
         "encoding": {"y": {"field": "md", "type": "quantitative"}}}
      ]
    },
    {
      "width": 549,
      "height": 507,
      "encoding": {
        "x": {"field": "x", "type": "quantitative", "title": "PC2",
              "scale": {"domain": [-4.12, 3.97], "nice": false, "zero": false},
              "axis": {"values": [-4, -3, -2, -1, 0, 1, 2, 3], "labelExpr": "datum.value % 2 == 0 ? '' + datum.value : ''", "gridWidth": {"condition": {"test": "datum.value % 2 != 0", "value": 0.5}, "value": 1}, "labelFontSize": 11, "labelPadding": 7, "titleFontSize": 15, "titlePadding": 3}},
        "y": {"field": "d", "type": "quantitative", "title": "density",
              "scale": {"domain": [-0.0334, 0.7014], "nice": false, "zero": false},
              "axis": {"values": [0, 0.1, 0.2, 0.3, 0.4, 0.5, 0.6], "labelExpr": "round(datum.value * 10) % 2 == 0 ? format(datum.value, '.1f') : ''", "gridWidth": {"condition": {"test": "round(datum.value * 10) % 2 != 0", "value": 0.5}, "value": 1}, "labelFontSize": 11, "titleFontSize": 13, "labelPadding": 6, "titlePadding": 5, "minExtent": 26, "maxExtent": 26}},
        "y2": {"datum": 0}
      },
      "layer": [
        {"data": {"name": "densL"}, "transform": [{"filter": "datum.g == 'Open Air'"}],
         "mark": {"type": "area", "interpolate": "monotone", "stroke": "black", "strokeWidth": 1, "fillOpacity": 1},
         "encoding": {"fill": {"field": "g", "type": "nominal",
                               "scale": {"domain": ["Open Air", "Cave or Rockshelter"], "range": ["#c36fe2", "#3dd656"]},
                               "legend": {"title": "Site Type", "orient": "none", "legendX": 224, "legendY": 568, "direction": "horizontal", "titleOrient": "left", "titleAnchor": "middle", "titleBaseline": "middle", "titlePadding": 8, "symbolType": "square", "symbolSize": 420, "symbolStrokeColor": "black", "symbolStrokeWidth": 2, "symbolOpacity": 1, "columnPadding": 10, "labelOffset": 9}}}},
        {"data": {"name": "densL"}, "transform": [{"filter": "datum.g == 'Cave or Rockshelter'"}],
         "mark": {"type": "area", "interpolate": "monotone", "fillOpacity": 1},
         "encoding": {"fill": {"field": "g", "type": "nominal"}}},
        {"data": {"name": "densL"}, "transform": [{"filter": "datum.g == 'ov'"}],
         "mark": {"type": "area", "interpolate": "monotone", "color": "#17a548", "stroke": "#129a3e", "strokeWidth": 0.8},
         "encoding": {}},
        {"data": {"name": "densL"}, "transform": [{"filter": "datum.g == 'Cave or Rockshelter'"}],
         "mark": {"type": "line", "interpolate": "monotone", "color": "black", "strokeWidth": 1},
         "encoding": {"y2": null}},
        {"data": {"name": "sites"},
         "mark": {"type": "line", "interpolate": "monotone", "color": "black", "strokeWidth": 2.3},
         "encoding": {"y2": null,
                      "strokeDash": {"field": "g", "type": "nominal",
                                     "scale": {"domain": ["ALM-3", "JKF-1"], "range": [[2, 5], [11, 6]]},
                                     "legend": {"title": "Site", "orient": "none", "legendX": 16, "legendY": 570, "direction": "horizontal", "titleOrient": "left", "titleAnchor": "middle", "titleBaseline": "middle", "titlePadding": 8, "symbolType": "stroke", "symbolSize": 550, "symbolStrokeColor": "black", "symbolStrokeWidth": 2.3, "columnPadding": 9, "labelOffset": 7}}}}
      ]
    },
    {
      "width": 549,
      "height": 507,
      "encoding": {
        "x": {"field": "x", "type": "quantitative", "title": "PC2",
              "scale": {"domain": [-4.12, 3.97], "nice": false, "zero": false},
              "axis": {"values": [-4, -3, -2, -1, 0, 1, 2, 3], "labelExpr": "datum.value % 2 == 0 ? '' + datum.value : ''", "gridWidth": {"condition": {"test": "datum.value % 2 != 0", "value": 0.5}, "value": 1}, "labelFontSize": 11, "labelPadding": 7, "titleFontSize": 15, "titlePadding": 3}},
        "y": {"field": "d", "type": "quantitative", "title": "density",
              "scale": {"domain": [-0.0334, 0.7014], "nice": false, "zero": false},
              "axis": {"values": [0, 0.1, 0.2, 0.3, 0.4, 0.5, 0.6], "labelExpr": "round(datum.value * 10) % 2 == 0 ? format(datum.value, '.1f') : ''", "gridWidth": {"condition": {"test": "round(datum.value * 10) % 2 != 0", "value": 0.5}, "value": 1}, "labelFontSize": 11, "titleFontSize": 13, "labelPadding": 6, "titlePadding": 5, "minExtent": 26, "maxExtent": 26}},
        "y2": {"datum": 0}
      },
      "layer": [
        {"data": {"name": "densR"}, "transform": [{"filter": "datum.g == 'Neanderthal'"}],
         "mark": {"type": "area", "interpolate": "monotone", "stroke": "black", "strokeWidth": 1, "fillOpacity": 1},
         "encoding": {"fill": {"field": "g", "type": "nominal",
                               "scale": {"domain": ["Neanderthal", "Homo sapiens"], "range": ["#ff6b61", "#5b5be8"]},
                               "legend": {"title": "Species", "orient": "none", "legendX": 29, "legendY": 568, "direction": "horizontal", "titleOrient": "left", "titleAnchor": "middle", "titleBaseline": "middle", "titlePadding": 8, "symbolType": "square", "symbolSize": 420, "symbolStrokeColor": "black", "symbolStrokeWidth": 2, "symbolOpacity": 1, "columnPadding": 10, "labelOffset": 9}}}},
        {"data": {"name": "densR"}, "transform": [{"filter": "datum.g == 'Homo sapiens'"}],
         "mark": {"type": "area", "interpolate": "monotone", "fillOpacity": 1},
         "encoding": {"fill": {"field": "g", "type": "nominal"}}},
        {"data": {"name": "densR"}, "transform": [{"filter": "datum.g == 'ov'"}],
         "mark": {"type": "area", "interpolate": "monotone", "color": "#5b1fb0", "stroke": "#2a2ab0", "strokeWidth": 0.8},
         "encoding": {}},
        {"data": {"name": "densR"}, "transform": [{"filter": "datum.g == 'Homo sapiens'"}],
         "mark": {"type": "line", "interpolate": "monotone", "color": "black", "strokeWidth": 1},
         "encoding": {"y2": null}},
        {"data": {"name": "sites"},
         "mark": {"type": "line", "interpolate": "monotone", "color": "black", "strokeWidth": 2.3},
         "encoding": {"y2": null,
                      "strokeDash": {"field": "g", "type": "nominal",
                                     "scale": {"domain": ["ALM-3", "JKF-1"], "range": [[2, 5], [11, 6]]},
                                     "legend": {"title": "Site", "orient": "none", "legendX": 346, "legendY": 570, "direction": "horizontal", "titleOrient": "left", "titleAnchor": "middle", "titleBaseline": "middle", "titlePadding": 8, "symbolType": "stroke", "symbolSize": 550, "symbolStrokeColor": "black", "symbolStrokeWidth": 2.3, "columnPadding": 9, "labelOffset": 7}}}}
      ]
    }
  ]
}
